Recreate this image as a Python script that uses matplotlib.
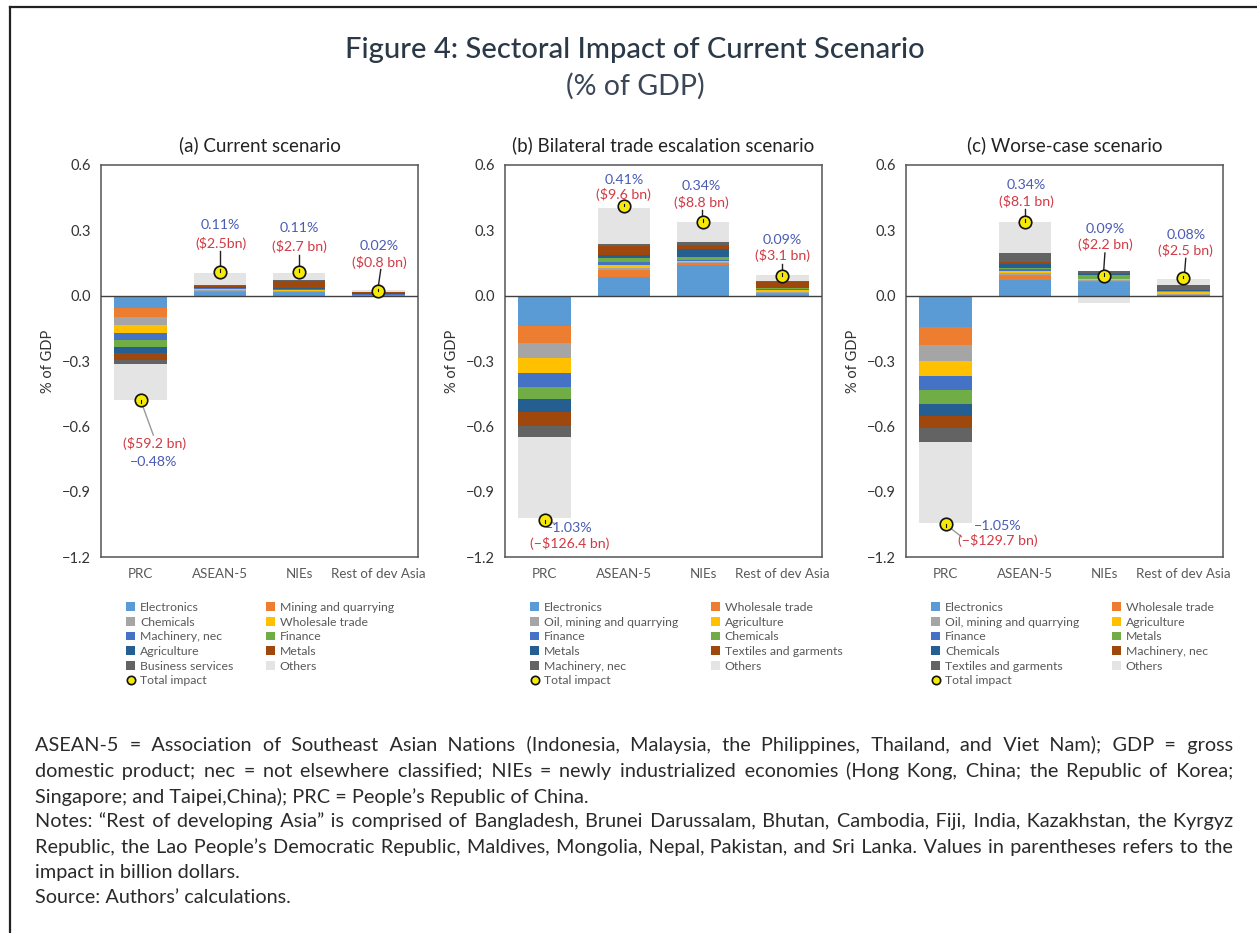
import matplotlib
matplotlib.use("Agg")
import matplotlib.pyplot as plt
from matplotlib.patches import Patch
from matplotlib.lines import Line2D

plt.rcParams['font.family'] = ['Lato', 'DejaVu Sans']
plt.rcParams['axes.unicode_minus'] = True

W, H = 1257, 933

# ---- data -------------------------------------------------------------
categories = ["PRC", "ASEAN-5", "NIEs", "Rest of dev Asia"]
colors = ["#5B9BD5", "#ED7D31", "#A5A5A5", "#FFC000", "#4472C4",
          "#70AD47", "#255E91", "#9E480E", "#636363", "#E4E4E4"]

a_sectors = ["Electronics", "Mining and quarrying", "Chemicals", "Wholesale trade",
             "Machinery, nec", "Finance", "Agriculture", "Metals",
             "Business services", "Others"]
a_values = [
    [-0.058, 0.015, 0.016, 0.002],
    [-0.038, 0.005, 0.003, 0.001],
    [-0.037, 0.004, 0.004, 0.001],
    [-0.037, 0.005, 0.003, 0.001],
    [-0.034, 0.004, 0.004, 0.001],
    [-0.031, 0.004, 0.002, 0.001],
    [-0.029, 0.004, 0.004, 0.004],
    [-0.031, 0.004, 0.032, 0.005],
    [-0.021, 0.005, 0.004, 0.002],
    [-0.164, 0.056, 0.031, 0.009],
]
a_total = [-0.48, 0.11, 0.11, 0.02]
a_bn = ["($59.2 bn)", "($2.5bn)", "($2.7 bn)", "($0.8 bn)"]

b_sectors = ["Electronics", "Wholesale trade", "Oil, mining and quarrying", "Agriculture",
             "Finance", "Chemicals", "Metals", "Textiles and garments",
             "Machinery, nec", "Others"]
b_values = [
    [-0.140, 0.087, 0.139, 0.008],
    [-0.079, 0.029, 0.009, 0.004],
    [-0.067, 0.011, 0.005, 0.004],
    [-0.070, 0.012, 0.006, 0.012],
    [-0.062, 0.016, 0.006, 0.003],
    [-0.058, 0.020, 0.012, 0.003],
    [-0.058, 0.011, 0.038, 0.003],
    [-0.065, 0.043, 0.017, 0.024],
    [-0.049, 0.009, 0.015, 0.005],
    [-0.372, 0.164, 0.093, 0.028],
]
b_total = [-1.03, 0.41, 0.34, 0.09]
b_bn = ["(\u2212$126.4 bn)", "($9.6 bn)", "($8.8 bn)", "($3.1 bn)"]

c_sectors = ["Electronics", "Wholesale trade", "Oil, mining and quarrying", "Agriculture",
             "Finance", "Metals", "Chemicals", "Machinery, nec",
             "Textiles and garments", "Others"]
c_values = [
    [-0.146, 0.070, 0.065, 0.002],
    [-0.081, 0.026, 0.004, 0.003],
    [-0.073, 0.008, 0.002, 0.002],
    [-0.069, 0.010, 0.004, 0.010],
    [-0.064, 0.007, 0.002, 0.002],
    [-0.064, 0.008, 0.020, 0.002],
    [-0.056, 0.016, 0.003, 0.003],
    [-0.053, 0.008, 0.006, 0.003],
    [-0.064, 0.045, 0.007, 0.021],
    [-0.375, 0.139, -0.035, 0.027],
]
c_total = [-1.05, 0.34, 0.09, 0.08]
c_bn = ["(\u2212$129.7 bn)", "($8.1 bn)", "($2.2 bn)", "($2.5 bn)"]

panel_titles = ["(a) Current scenario", "(b) Bilateral trade escalation scenario",
                "(c) Worse-case scenario"]

# label layout per panel: (x_text, y_pct, y_bn, line x0, y0, x1, y1, line colour)
layouts = [
    [(0.17, -0.762, -0.677, 0.0, -0.48, 0.16, -0.64, "#999999"),
     (1.01, 0.326, 0.239, 1.0, 0.11, 1.0, 0.204, "#222222"),
     (2.0, 0.311, 0.227, 2.0, 0.11, 2.0, 0.189, "#222222"),
     (3.01, 0.230, 0.153, 2.99, 0.02, 3.03, 0.12, "#222222")],
    [(0.31, -1.065, -1.137, 0.0, -1.03, 0.12, -1.045, "#999999"),
     (1.0, 0.533, 0.464, 1.0, 0.41, 1.0, 0.44, "#222222"),
     (1.98, 0.503, 0.429, 1.98, 0.34, 1.98, 0.395, "#222222"),
     (3.0, 0.257, 0.184, 3.0, 0.09, 3.0, 0.146, "#222222")],
    [(0.66, -1.056, -1.125, 0.0, -1.05, 0.2, -1.107, "#999999"),
     (1.02, 0.506, 0.431, 1.0, 0.34, 1.0, 0.398, "#222222"),
     (2.01, 0.307, 0.234, 1.99, 0.09, 2.01, 0.196, "#222222"),
     (3.03, 0.280, 0.208, 3.01, 0.08, 3.03, 0.171, "#222222")],
]

panels = [(a_sectors, a_values, a_total, a_bn),
          (b_sectors, b_values, b_total, b_bn),
          (c_sectors, c_values, c_total, c_bn)]

PCT_COLOR = "#4A5BB5"
BN_COLOR = "#D13A45"
TEXT_GRAY = "#595959"

fig = plt.figure(figsize=(W / 100, H / 100), dpi=100)

axes_left = [101, 505, 906]
for p, (sectors, values, total, bn) in enumerate(panels):
    ax = fig.add_axes([axes_left[p] / W, (H - 557) / H, 317 / W, 392 / H])
    x = list(range(len(categories)))
    pos_base = [0.0] * len(categories)
    neg_base = [0.0] * len(categories)
    for k, row in enumerate(values):
        for i, v in enumerate(row):
            base = pos_base if v >= 0 else neg_base
            ax.bar(x[i], v, bottom=base[i], width=0.66, color=colors[k],
                   edgecolor='none', zorder=2)
            base[i] += v
    ax.axhline(0, color="#404040", lw=1.0, zorder=3)

    for i in range(len(categories)):
        xt, yp, yb, lx0, ly0, lx1, ly1, lc = layouts[p][i]
        ax.plot([lx0, lx1], [ly0, ly1], color=lc, lw=1.0, zorder=4)
        ax.plot(x[i], total[i], marker='o', ms=9, mfc="#F5E90A", mec="#111111",
                mew=1.2, zorder=5, ls='none')
        ax.plot([x[i], x[i]], [total[i], total[i] + 0.012 * (1 if total[i] > 0 else -1)],
                color="#111111", lw=0.8, zorder=6)
        pct = f"{total[i]:.2f}%".replace("-", "\u2212")
        ax.text(xt, yp, pct, color=PCT_COLOR, fontsize=10.2, ha='center', va='center', zorder=6)
        ax.text(xt, yb, bn[i], color=BN_COLOR, fontsize=10.2, ha='center', va='center', zorder=6)

    ax.set_xlim(-0.5, 3.5)
    ax.set_ylim(-1.2, 0.6)
    ax.set_yticks([0.6, 0.3, 0.0, -0.3, -0.6, -0.9, -1.2])
    ax.set_yticklabels(["0.6", "0.3", "0.0", "\u22120.3", "\u22120.6", "\u22120.9", "\u22121.2"])
    ax.set_xticks(x)
    ax.set_xticklabels(categories)
    ax.tick_params(axis='y', length=0, pad=7, labelsize=10.5, labelcolor="#333333")
    ax.tick_params(axis='x', length=0, pad=8, labelsize=9.6, labelcolor=TEXT_GRAY)
    for s in ax.spines.values():
        s.set_color("#555555")
        s.set_linewidth(1.1)
    ax.set_ylabel("% of GDP", fontsize=10.5, color="#333333")
    ax.yaxis.set_label_coords(-0.145, 0.5)
    ax.text(0.5, 1.051, panel_titles[p], transform=ax.transAxes, ha='center',
            va='center', fontsize=13.5, color="#222222")

    handles = [Patch(facecolor=colors[k], edgecolor='none', label=sectors[k])
               for k in range(len(sectors))]
    tot = Line2D([], [], marker='o', ls='none', ms=6, mfc="#F5E90A", mec="#111111",
                 mew=1.2, label="Total impact")
    order = [handles[0], handles[2], handles[4], handles[6], handles[8], tot,
             handles[1], handles[3], handles[5], handles[7], handles[9]]
    leg = ax.legend(handles=order, ncol=2, loc='upper left', bbox_to_anchor=(0.065, -0.102),
                    frameon=False, fontsize=8.8, handlelength=0.7, handleheight=0.7,
                    handletextpad=0.4, labelspacing=0.3, columnspacing=2.7,
                    borderaxespad=0)
    for t in leg.get_texts():
        t.set_color(TEXT_GRAY)

fig.text(635 / W, 1 - 50 / H, "Figure 4: Sectoral Impact of Current Scenario",
         ha='center', va='center', fontsize=21, color="#2B3847", weight='medium')
fig.text(635 / W, 1 - 86 / H, "(% of GDP)", ha='center', va='center',
         fontsize=20.5, color="#3B4656")

# border lines (top and left)
fig.add_artist(Line2D([10 / W, 10 / W], [0, 1 - 7 / H], transform=fig.transFigure,
                      color="#222222", lw=1.6))
fig.add_artist(Line2D([10 / W, 1], [1 - 7 / H, 1 - 7 / H], transform=fig.transFigure,
                      color="#222222", lw=1.6))

# notes, justified like the source (extra hair spaces between words)
notes = [
    ("ASEAN-5 = Association of Southeast Asian Nations (Indonesia, Malaysia, the Philippines, "
     "Thailand, and Viet Nam); GDP = gross", True),
    ("domestic product; nec = not elsewhere classified; NIEs = newly industrialized economies "
     "(Hong Kong, China; the Republic of Korea;", True),
    ("Singapore; and Taipei,China); PRC = People\u2019s Republic of China.", False),
    ("Notes: \u201cRest of developing Asia\u201d is comprised of Bangladesh, Brunei Darussalam, "
     "Bhutan, Cambodia, Fiji, India, Kazakhstan, the Kyrgyz", True),
    ("Republic, the Lao People\u2019s Democratic Republic, Maldives, Mongolia, Nepal, Pakistan, "
     "and Sri Lanka. Values in parentheses refers to the", True),
    ("impact in billion dollars.", False),
    ("Source: Authors\u2019 calculations.", False),
]
note_baseline = [751, 777, 803, 827, 853, 878, 903]
x0, x1 = 35, 1233
NOTE_FS = 14.3
NOTE_COLOR = "#2A2A2A"
HAIR = "\u200a"
renderer = fig.canvas.get_renderer()


def text_width(s):
    t = fig.text(0, 0, s, fontsize=NOTE_FS)
    w = t.get_window_extent(renderer).width
    t.remove()
    return w


hair_w = text_width("a" + HAIR * 10 + "a") - text_width("aa")
hair_w = hair_w / 10 if hair_w > 0 else 0

for (line, just), y in zip(notes, note_baseline):
    s = line
    if just and hair_w > 0:
        words = line.split()
        extra = (x1 - x0) - text_width(" ".join(words))
        n_gaps = len(words) - 1
        total_hairs = max(0, int(round(extra / hair_w)))
        parts = [words[0]]
        used = 0
        for g in range(n_gaps):
            target = int(round(total_hairs * (g + 1) / n_gaps))
            parts.append(" " + HAIR * (target - used) + words[g + 1])
            used = target
        s = "".join(parts)
    fig.text(x0 / W, 1 - y / H, s, fontsize=NOTE_FS, color=NOTE_COLOR, va='baseline')

fig.savefig("out.png", dpi=100)
